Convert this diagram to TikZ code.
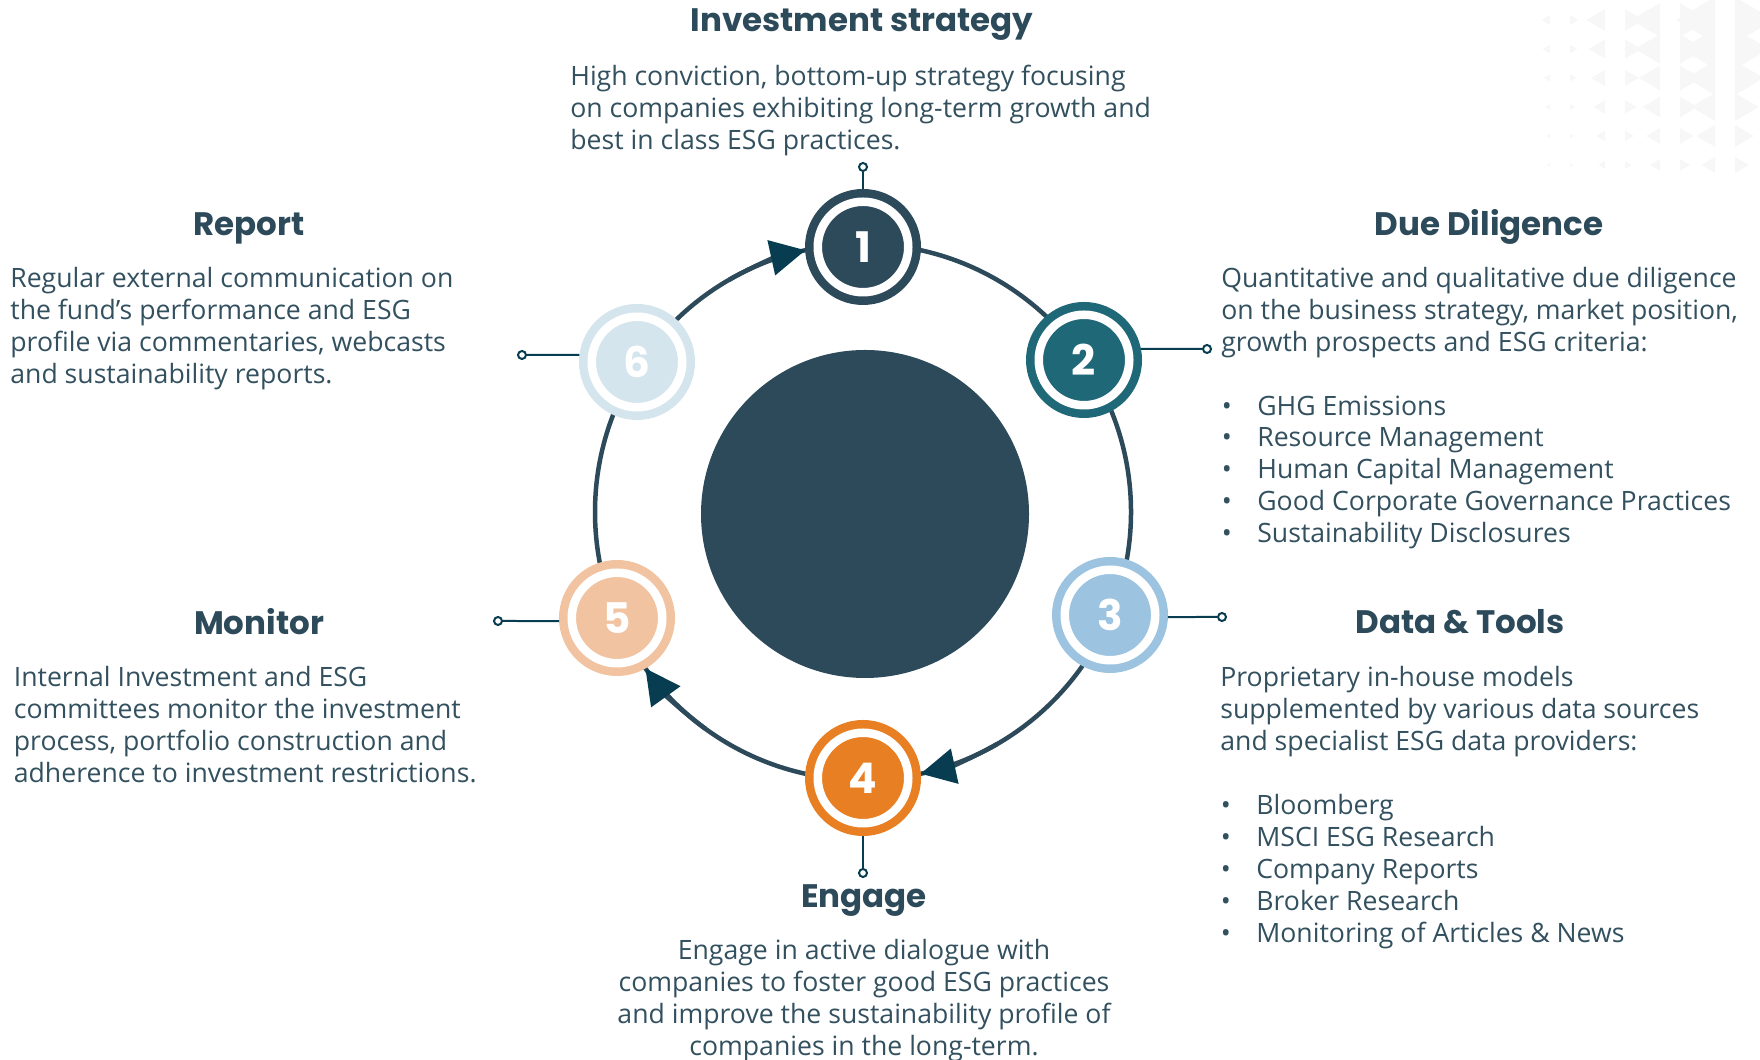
\documentclass[tikz,border=0pt]{standalone}
\usepackage{fontspec}
\setmainfont{Open Sans}
\newfontfamily\headfont{Poppins}
\usetikzlibrary{arrows.meta}

\definecolor{darkslate}{HTML}{2D4A5B}
\definecolor{textslate}{HTML}{33505F}
\definecolor{arrowteal}{HTML}{083D51}
\definecolor{steptwo}{HTML}{1F6878}
\definecolor{stepthree}{HTML}{9CC3E0}
\definecolor{stepfour}{HTML}{E97F23}
\definecolor{stepfive}{HTML}{F1C3A1}
\definecolor{stepsix}{HTML}{D4E5ED}

\newcommand{\listdot}{\hspace*{0.01cm}\makebox[0.71cm][l]{\textbullet}}

\begin{document}
\begin{tikzpicture}[main_node/.style={circle, fill=#1, draw=#1, line width=0.17cm, double=white, double distance=0.17cm, minimum size=1.81cm, inner sep=0, outer sep=0.255cm, text=white, font=\headfont\bfseries\fontsize{24}{24}\selectfont},
    pin_node/.style={circle, draw=arrowteal, fill=white, line width=0.04cm, inner sep=0, minimum size=0.16cm},
    ring_line/.style={draw=darkslate, line width=0.09cm},
    flow_arrow/.style={-{Triangle[length=0.7cm, width=0.7cm, color=arrowteal]}},
    head_node/.style={text=darkslate, inner sep=0, font=\headfont\bfseries\fontsize{18.5}{22}\selectfont},
    body_node/.style={text=textslate, inner sep=0, font=\fontsize{15.15}{18.2}\selectfont}]

    \useasboundingbox (0,0) rectangle (35.2,21.2);
    \clip (0,0) rectangle (35.2,21.2);

    % faint triangles, top right
    \foreach \r in {0,...,5}
      \foreach \c in {0,...,3}{
        \pgfmathsetmacro{\s}{(0.1+0.12*\c)*(1-0.13*\r)}
        \fill[black!3] (31.2+1.1*\c-0.2,20.8-0.58*\r) -- ++(-1.7*\s,0) ++(1.7*\s,\s) -- ++(-1.7*\s,-\s) -- ++(1.7*\s,-\s) -- cycle;
        \fill[black!3] (31.2+1.1*\c+0.2,20.8-0.58*\r+\s) -- ++(1.7*\s,-\s) -- ++(-1.7*\s,-\s) -- cycle;
      }

    % the cycle ring
    \coordinate (ring) at (17.26,10.96);
    \draw[ring_line] (ring) circle (5.36);

    \node[circle, fill=darkslate, minimum size=6.56cm, inner sep=0] (0) at (17.30,10.92) {};

    \node[main_node=darkslate] (1) at (17.26,16.26) {1};
    \node[main_node=steptwo] (2) at (21.68,14.00) {2};
    \node[main_node=stepthree] (3) at (22.20,8.90) {3};
    \node[main_node=stepfour] (4) at (17.26,5.64) {4};
    \node[main_node=stepfive] (5) at (12.34,8.84) {5};
    \node[main_node=stepsix] (6) at (12.74,13.96) {6};

    \node[pin_node] (7) at (17.26,17.86) {};
    \node[pin_node] (8) at (24.14,14.22) {};
    \node[pin_node] (9) at (24.44,8.86) {};
    \node[pin_node] (10) at (17.26,3.74) {};
    \node[pin_node] (11) at (9.96,8.78) {};
    \node[pin_node] (12) at (10.44,14.10) {};

    \draw[arrowteal, line width=0.04cm] (1.north) -- (7);
    \draw[arrowteal, line width=0.04cm] (2.11) -- (8);
    \draw[arrowteal, line width=0.04cm] (3.-2) -- (9);
    \draw[arrowteal, line width=0.04cm] (4.south) -- (10);
    \draw[arrowteal, line width=0.04cm] (5.183) -- (11);
    \draw[arrowteal, line width=0.04cm] (6.173) -- (12);

    % arrow heads on the ring, ending at the circles
    \draw[ring_line, flow_arrow] (ring) ++(120:5.36) arc[start angle=120, end angle=102.4, radius=5.36];
    \draw[ring_line, flow_arrow] (ring) ++(-60:5.36) arc[start angle=-60, end angle=-77.6, radius=5.36];
    \draw[ring_line, flow_arrow] (ring) ++(-126:5.36) arc[start angle=-126, end angle=-144.3, radius=5.36];

    \node[head_node] (13) at (17.24,20.71) {Investment strategy};
    \node[head_node] (14) at (29.78,16.67) {Due Diligence};
    \node[head_node] (15) at (29.20,8.76) {Data \& Tools};
    \node[head_node] (16) at (17.28,3.19) {Engage};
    \node[head_node] (17) at (5.18,8.76) {Monitor};
    \node[head_node] (18) at (4.98,16.63) {Report};

    \node[body_node, align=left, anchor=north west] (19) at (11.40,19.91) {High conviction, bottom-up strategy focusing\\on companies exhibiting long-term growth and\\best in class ESG practices.};
    \node[body_node, align=left, anchor=north west] (20) at (24.42,15.87) {Quantitative and qualitative due diligence\\on the business strategy, market position,\\growth prospects and ESG criteria:\\[0.64cm]\listdot GHG Emissions\\\listdot Resource Management\\\listdot Human Capital Management\\\listdot Good Corporate Governance Practices\\\listdot Sustainability Disclosures};
    \node[body_node, align=left, anchor=north west] (21) at (24.40,7.88) {Proprietary in-house models\\supplemented by various data sources\\and specialist ESG data providers:\\[0.64cm]\listdot Bloomberg\\\listdot MSCI ESG Research\\\listdot Company Reports\\\listdot Broker Research\\\listdot Monitoring of Articles \& News};
    \node[body_node, align=center, anchor=north] (22) at (17.28,2.42) {Engage in active dialogue with\\companies to foster good ESG practices\\and improve the sustainability profile of\\companies in the long-term.};
    \node[body_node, align=left, anchor=north west] (23) at (0.27,7.88) {Internal Investment and ESG\\committees monitor the investment\\process, portfolio construction and\\adherence to investment restrictions.};
    \node[body_node, align=left, anchor=north west] (24) at (0.20,15.87) {Regular external communication on\\the fund’s performance and ESG\\profile via commentaries, webcasts\\and sustainability reports.};

\end{tikzpicture}
\end{document}
